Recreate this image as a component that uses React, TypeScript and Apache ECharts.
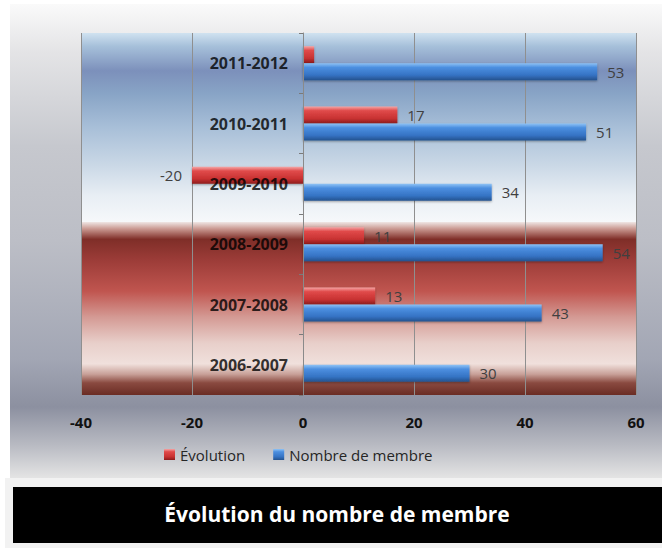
import React, { useEffect, useRef } from "react";
import * as echarts from "echarts";

const categories = ["2011-2012", "2010-2011", "2009-2010", "2008-2009", "2007-2008", "2006-2007"];
const evolution: (number | null)[] = [2, 17, -20, 11, 13, null];
const membres = [53, 51, 34, 54, 43, 30];
const evolutionLabelHidden = ["2011-2012"];
const seriesNames = ["Évolution", "Nombre de membre"];
const titleText = "Évolution du nombre de membre";

const W = 662;
const H = 548;
const GRID = { left: 81, right: 26, top: 33, bottom: 153 };
const FONT = "'Open Sans', 'Noto Sans', sans-serif";

const lg = (stops: [number, string][]) =>
  new echarts.graphic.LinearGradient(0, 0, 0, 1, stops.map(([offset, color]) => ({ offset, color })));

export default function App() {
  const ref = useRef<HTMLDivElement>(null);
  useEffect(() => {
    const chart = echarts.init(ref.current!, null, { renderer: "svg" });
    const plotTop = GRID.top;
    const plotBottom = H - GRID.bottom;
    const plotLeft = GRID.left;
    const plotW = W - GRID.left - GRID.right;
    const split = 222;

    const redBar = lg([
      [0, "#f5a5a5"],
      [0.25, "#e04a4a"],
      [0.7, "#c83232"],
      [1, "#8c1c1c"],
    ]);
    const blueBar = lg([
      [0, "#8fc3f5"],
      [0.25, "#4c8fe0"],
      [0.7, "#3573c4"],
      [1, "#24528e"],
    ]);

    chart.setOption({
      animation: false,
      backgroundColor: "#ffffff",
      title: {
        text: titleText,
        left: 337,
        top: 503,
        textAlign: "center",
        padding: 0,
        z: 20,
        textStyle: { color: "#ffffff", fontSize: 21, fontWeight: "bold", fontFamily: FONT },
      },
      graphic: [
        {
          type: "rect",
          z: -20,
          shape: { x: 10, y: 4, width: W - 10, height: 474 },
          style: {
            fill: lg([
              [0, "#fafafa"],
              [0.1, "#e4e4e6"],
              [0.3, "#c6c8ce"],
              [0.5, "#bcbec6"],
              [0.75, "#a2a6b4"],
              [0.85, "#8c90a0"],
              [0.93, "#b8bac2"],
              [1, "#e4e4e4"],
            ]),
          },
        },
        {
          type: "rect",
          z: -20,
          shape: { x: 5, y: 478, width: W - 5, height: H - 478 },
          style: { fill: "#f2f2f2" },
        },
        {
          type: "rect",
          z: -15,
          shape: { x: 13, y: 487, width: W - 13, height: 56 },
          style: { fill: "#000000" },
        },
        {
          type: "rect",
          z: -10,
          shape: { x: plotLeft, y: plotTop, width: plotW, height: split - plotTop },
          style: {
            fill: lg([
              [0, "#d0e2f0"],
              [0.07, "#a6c0da"],
              [0.2, "#7c90bb"],
              [0.32, "#88a4c6"],
              [0.5, "#a8bfd8"],
              [0.7, "#cad8e6"],
              [0.86, "#e8eef4"],
              [1, "#f6f8fa"],
            ]),
          },
        },
        {
          type: "rect",
          z: -10,
          shape: { x: plotLeft, y: split, width: plotW, height: plotBottom - split },
          style: {
            fill: lg([
              [0, "#efe6e4"],
              [0.04, "#c99890"],
              [0.1, "#7f2e28"],
              [0.22, "#9c3c38"],
              [0.4, "#c0554f"],
              [0.55, "#d49a94"],
              [0.7, "#e8cfca"],
              [0.82, "#f0e0dc"],
              [0.88, "#c8a098"],
              [0.93, "#8a4a40"],
              [1, "#6a2c24"],
            ]),
          },
        },
      ],
      legend: {
        data: seriesNames,
        left: 164,
        top: 447,
        padding: 0,
        itemWidth: 11,
        itemHeight: 11,
        itemGap: 28,
        icon: "rect",
        textStyle: { fontSize: 15, color: "#262626", fontFamily: FONT },
      },
      grid: { ...GRID, containLabel: false, outerBoundsMode: "none" },
      xAxis: {
        type: "value",
        min: -40,
        max: 60,
        interval: 20,
        axisLine: { show: false },
        axisTick: { show: false },
        axisLabel: { fontSize: 15, fontWeight: "bold", color: "#111", fontFamily: FONT, margin: 19 },
        splitLine: { show: true, lineStyle: { color: "#8f8f8f", width: 1 } },
      },
      yAxis: {
        type: "category",
        data: categories,
        inverse: true,
        z: 5,
        axisLine: { show: true, onZero: true, lineStyle: { color: "#8a8a8a" } },
        axisTick: { show: true, length: 4, lineStyle: { color: "#7a7a7a" } },
        axisLabel: { show: false },
        splitLine: { show: false },
      },
      series: [
        {
          name: seriesNames[0],
          type: "bar",
          barWidth: 17,
          barGap: "0%",
          itemStyle: {
            color: redBar,
            shadowColor: "rgba(0,0,0,0.35)",
            shadowBlur: 2,
            shadowOffsetY: 1,
          },
          label: {
            show: true,
            distance: 10,
            fontSize: 15,
            color: "#404040",
            fontFamily: FONT,
          },
          data: evolution.map((v, i) =>
            v == null
              ? null
              : {
                  value: v,
                  label: {
                    show: !evolutionLabelHidden.includes(categories[i]),
                    position: v < 0 ? "left" : "right",
                  },
                }
          ),
        },
        {
          name: seriesNames[1],
          type: "bar",
          barWidth: 17,
          barGap: "0%",
          itemStyle: {
            color: blueBar,
            shadowColor: "rgba(0,0,0,0.35)",
            shadowBlur: 2,
            shadowOffsetY: 1,
          },
          label: {
            show: true,
            position: "right",
            distance: 10,
            fontSize: 15,
            color: "#404040",
            fontFamily: FONT,
          },
          data: membres,
        },
        {
          name: "categoryLabels",
          type: "scatter",
          z: 6,
          silent: true,
          symbolSize: 0,
          label: {
            show: true,
            position: "left",
            distance: 15,
            formatter: "{b}",
            fontSize: 16,
            fontWeight: "bold",
            color: "#000",
            fontFamily: FONT,
          },
          data: categories.map((c) => ({ name: c, value: [0, c] })),
        },
      ],
    });
    return () => chart.dispose();
  }, []);
  return <div ref={ref} style={{ position: "absolute", left: 0, top: 0, width: W, height: H }} />;
}
